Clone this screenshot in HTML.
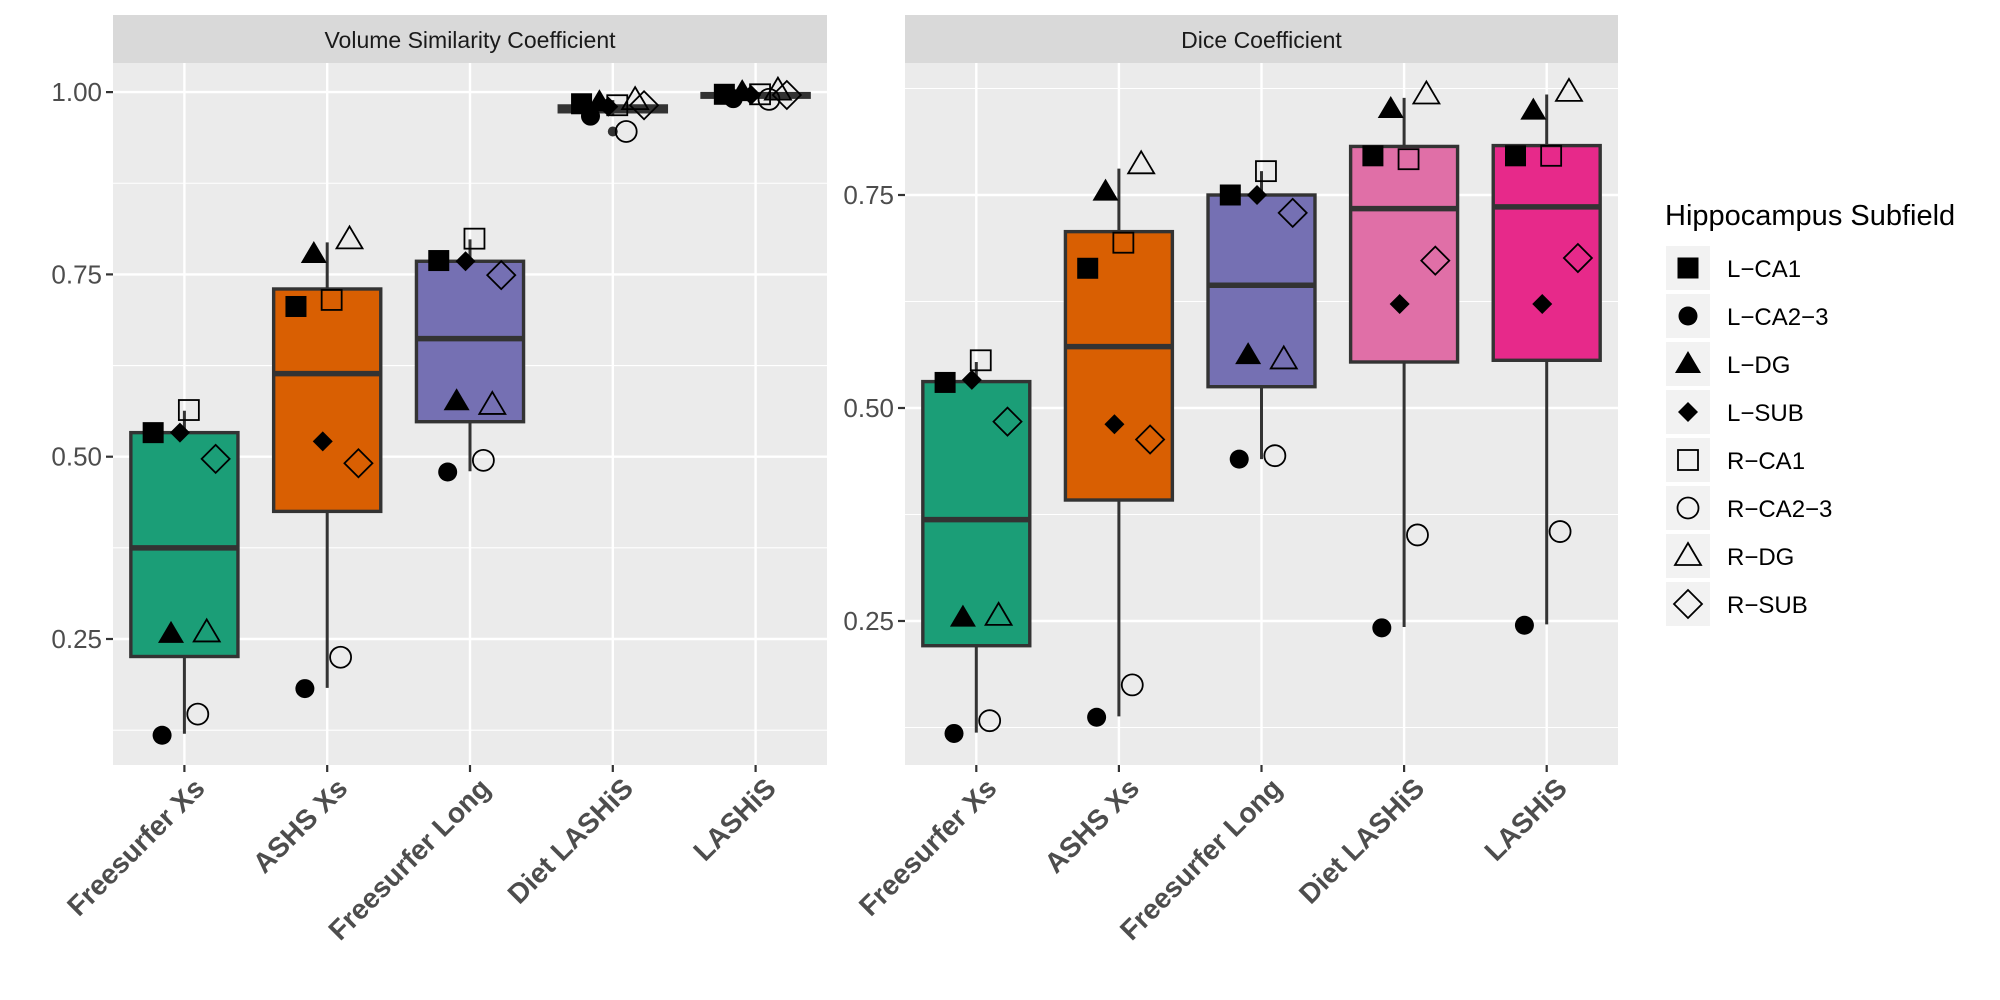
<!DOCTYPE html>
<html><head><meta charset="utf-8"><style>
body{margin:0;background:#fff;}
svg{display:block;font-family:"Liberation Sans",Arial,sans-serif;}
</style></head><body>
<svg id="chart" width="2000" height="1000" viewBox="0 0 2000 1000" xmlns="http://www.w3.org/2000/svg"></svg>
<script>
const categories = ["Freesurfer Xs","ASHS Xs","Freesurfer Long","Diet LASHiS","LASHiS"];
const subfields = ["L-CA1","L-CA2-3","L-DG","L-SUB","R-CA1","R-CA2-3","R-DG","R-SUB"];
const boxColors = ["#1b9e77","#d95f02","#7570b3","#e06fa7","#e7298a"];
// Volume similarity: [lowWhisker, Q1, median, Q3, highWhisker]
const vsBoxes = [
  [0.120,0.226,0.375,0.533,0.563],
  [0.183,0.425,0.614,0.730,0.794],
  [0.480,0.548,0.662,0.768,0.798],
  [0.967,0.973,0.977,0.981,0.989],
  [0.990,0.993,0.996,0.998,1.002]
];
const vsOutliers = [[],[],[],[0.946],[]];
// points per category, ordered as subfields
const vsPoints = [
  [0.533,0.118,0.257,0.533,0.564,0.147,0.259,0.497],
  [0.706,0.182,0.778,0.521,0.715,0.225,0.798,0.491],
  [0.769,0.479,0.576,0.768,0.799,0.495,0.571,0.749],
  [0.984,0.967,0.986,0.980,0.982,0.946,0.989,0.982],
  [0.997,0.991,1.000,0.996,0.997,0.990,1.002,0.996]
];
const diceBoxes = [
  [0.119,0.221,0.369,0.531,0.554],
  [0.138,0.392,0.572,0.707,0.781],
  [0.440,0.525,0.644,0.750,0.778],
  [0.243,0.554,0.734,0.807,0.864],
  [0.246,0.556,0.736,0.808,0.868]
];
const diceOutliers = [[],[],[],[],[]];
const dicePoints = [
  [0.530,0.118,0.254,0.533,0.556,0.133,0.256,0.484],
  [0.664,0.137,0.754,0.481,0.694,0.175,0.786,0.463],
  [0.750,0.440,0.562,0.750,0.778,0.444,0.557,0.729],
  [0.796,0.242,0.851,0.622,0.792,0.351,0.868,0.673],
  [0.796,0.245,0.849,0.622,0.796,0.355,0.871,0.676]
];
const vsTicks = [0.25,0.50,0.75,1.00];
const vsTickLabels = ["0.25","0.50","0.75","1.00"];
const vsMinor = [0.125,0.375,0.625,0.875];
const diceTicks = [0.25,0.50,0.75];
const diceTickLabels = ["0.25","0.50","0.75"];
const diceMinor = [0.125,0.375,0.625,0.875];

const NS="http://www.w3.org/2000/svg";
const svg=document.getElementById('chart');
function mk(tag,attrs,parent){const e=document.createElementNS(NS,tag);for(const k in attrs)e.setAttribute(k,attrs[k]);(parent||svg).appendChild(e);return e;}

function shape(g,i,cx,cy){
  const filled=i<4, t=i%4, fill=filled?'#000':'none', st=filled?'none':'#000';
  let e;
  if(t===0){const s=filled?21:20;e=mk('rect',{x:cx-s/2,y:cy-s/2,width:s,height:s,fill:fill,stroke:st,'stroke-width':1.8},g);}
  else if(t===1){e=mk('circle',{cx:cx,cy:cy,r:filled?9.5:10.5,fill:fill,stroke:st,'stroke-width':1.8},g);}
  else if(t===2){e=mk('polygon',{points:`${cx},${cy-13} ${cx+13},${cy+9} ${cx-13},${cy+9}`,fill:fill,stroke:st,'stroke-width':1.8},g);}
  else {const r=filled?10:14;e=mk('polygon',{points:`${cx},${cy-r} ${cx+r},${cy} ${cx},${cy+r} ${cx-r},${cy}`,fill:fill,stroke:st,'stroke-width':1.8},g);}
  return e;
}

function panel(opt){
  const g=mk('g',{});
  
  
  const x0=opt.x0,x1=opt.x1,top=63,bot=765;
  const y=v=>opt.yBase-(v-opt.vBase)*opt.yScale;
  const step=(x1-x0)/5;
  const xc=i=>x0+step*(i+0.5);
  const strip=mk('rect',{x:x0,y:15,width:x1-x0,height:48,fill:'#d9d9d9'},g);
  
  const st=mk('text',{x:(x0+x1)/2,y:48,'text-anchor':'middle','font-size':23,fill:'#1a1a1a'},g);
  st.textContent=opt.title;
  
  mk('rect',{x:x0,y:top,width:x1-x0,height:bot-top,fill:'#ebebeb'},g);
  opt.minor.forEach(v=>{const l=mk('line',{x1:x0,x2:x1,y1:y(v),y2:y(v),stroke:'#fff','stroke-width':1.1},g);
    });
  opt.ticks.forEach((v,k)=>{
    const l=mk('line',{x1:x0,x2:x1,y1:y(v),y2:y(v),stroke:'#fff','stroke-width':2.4},g);
    
    mk('line',{x1:x0-7,x2:x0,y1:y(v),y2:y(v),stroke:'#333','stroke-width':2.2},g);
    const t=mk('text',{x:x0-11,y:y(v)+9,'text-anchor':'end','font-size':26,fill:'#4d4d4d'},g);
    t.textContent=opt.tickLabels[k];
    
  });
  categories.forEach((c,i)=>{
    const l=mk('line',{x1:xc(i),x2:xc(i),y1:top,y2:bot,stroke:'#fff','stroke-width':2.4},g);
    
  });
  categories.forEach((c,i)=>{
    const b=opt.boxes[i],cx=xc(i),w=step*0.75;
    const wl=mk('line',{x1:cx,x2:cx,y1:y(b[0]),y2:y(b[4]),stroke:'#333','stroke-width':3},g);
    
    const r=mk('rect',{x:cx-w/2,y:y(b[3]),width:w,height:Math.max(1,y(b[1])-y(b[3])),fill:boxColors[i],stroke:'#333','stroke-width':3.4},g);
    
    const m=mk('line',{x1:cx-w/2,x2:cx+w/2,y1:y(b[2]),y2:y(b[2]),stroke:'#333','stroke-width':5.5},g);
    
    opt.outliers[i].forEach(v=>{const o=mk('circle',{cx:cx,cy:y(v),r:5,fill:'#333'},g);
      });
    mk('line',{x1:cx,x2:cx,y1:bot,y2:bot+7,stroke:'#333','stroke-width':2.2},g);
    const t=mk('text',{x:0,y:0,'text-anchor':'end','font-size':28,'font-weight':'bold',fill:'#4d4d4d',
      transform:`translate(${cx+22},${bot+25}) rotate(-45)`},g);
    t.textContent=c;
    
  });
  categories.forEach((c,i)=>{
    opt.points[i].forEach((v,k)=>{
      const dx=(k-3.5)/8*0.5*step;
      const p=shape(g,k,xc(i)+dx,y(v));
      
      
    });
  });
}
panel({name:'volume-similarity-panel',title:'Volume Similarity Coefficient',x0:113,x1:827,yBase:639,vBase:0.25,yScale:729.2,
  ticks:vsTicks,tickLabels:vsTickLabels,minor:vsMinor,boxes:vsBoxes,outliers:vsOutliers,points:vsPoints});
panel({name:'dice-panel',title:'Dice Coefficient',x0:905,x1:1618,yBase:621,vBase:0.25,yScale:852,
  ticks:diceTicks,tickLabels:diceTickLabels,minor:diceMinor,boxes:diceBoxes,outliers:diceOutliers,points:dicePoints});

// legend
const lg=mk('g',{});


const lt=mk('text',{x:1665,y:225,'font-size':29,fill:'#000'},lg);
lt.textContent='Hippocampus Subfield';


subfields.forEach((s,k)=>{
  const cy=268+48*k;
  const e=mk('g',{},lg);
  
  
  mk('rect',{x:1666,y:cy-22,width:44,height:44,fill:'#f2f2f2'},e);
  shape(e,k,1688,cy);
  const t=mk('text',{x:1727,y:cy+9,'font-size':24,fill:'#000'},e);
  t.textContent=s.replace(/-/g,'\u2212');
});
</script>
</body></html>
